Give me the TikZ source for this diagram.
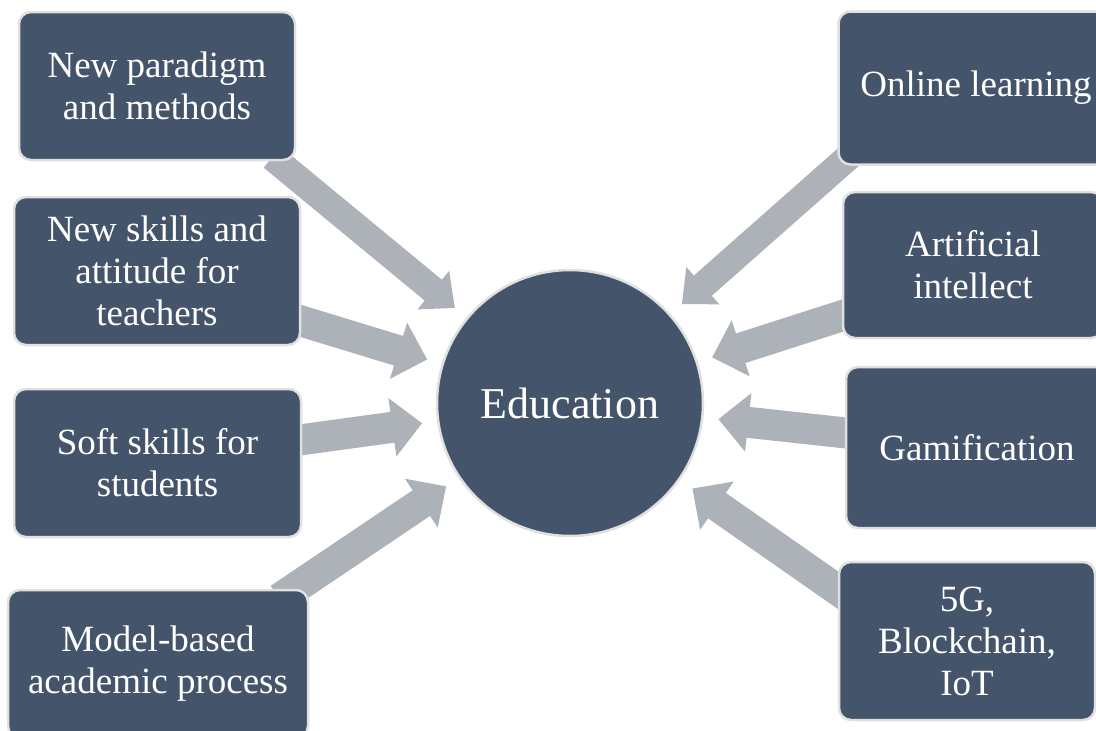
\documentclass[tikz,border=0pt]{standalone}
\usepackage{fontspec}
\setmainfont{Liberation Serif}
\usepackage{xcolor}
\usetikzlibrary{arrows.meta,backgrounds}

\definecolor{slate}{HTML}{44546A}
\definecolor{arrowgray}{HTML}{ADB1B8}
\definecolor{rimgray}{HTML}{E0E0E0}

\tikzset{
  topic/.style={rectangle, rounded corners=12pt, fill=slate, draw=rimgray,
    line width=2.5pt, text=white, align=center, inner sep=0pt,
    font=\fontsize{37}{42}\selectfont},
  hub/.style={circle, fill=slate, draw=rimgray, line width=2.5pt, text=white,
    minimum size=266pt, inner sep=0pt, font=\fontsize{44}{50}\selectfont},
  feed/.style={arrowgray, line width=31pt, shorten >=15pt,
    -{Triangle[length=30pt,width=57pt]}},
  longfeed/.style={feed, line width=27pt, -{Triangle[length=28pt,width=48pt]}},
}

\begin{document}
\begin{tikzpicture}[x=1pt,y=-1pt]
            \useasboundingbox (0,0) rectangle (1096,731);
            \clip (0,0) rectangle (1096,731);
            % left column
            \node [topic, minimum width=276pt, minimum height=148pt] (p1) at (157,86) {New paradigm\\and methods};
            \node [topic, minimum width=286pt, minimum height=148pt] (p2) at (157,271) {New skills and\\attitude for\\teachers};
            \node [topic, minimum width=287pt, minimum height=148pt] (p3) at (157.5,463) {Soft skills for\\students};
            \node [topic, minimum width=300pt, minimum height=148pt] (p4) at (158,664) {Model-based\\academic process};
            % right column
            \node [topic, minimum width=275pt, minimum height=153pt] (o1) at (976,88) {Online learning};
            \node [topic, minimum width=260pt, minimum height=146pt] (o2) at (973,265) {Artificial\\intellect};
            \node [topic, minimum width=262pt, minimum height=161pt] (o3) at (977,447.5) {Gamification};
            \node [topic, minimum width=256pt, minimum height=158pt] (o4) at (967,641) {5G,\\Blockchain,\\IoT};
            % centre
            \node [hub] (edu) at (570,403) {Education};
            \begin{pgfonlayer}{background}
            \draw [longfeed] ([xshift=-24pt,yshift=4pt]p1.south east) -- (edu);
            \draw [feed] ([xshift=-10pt,yshift=-47pt]p2.east) -- (edu);
            \draw [feed] ([xshift=-10pt,yshift=22pt]p3.east) -- (edu);
            \draw [feed] ([xshift=-30pt,yshift=-10pt]p4.north east) -- (edu);
            \draw [longfeed] ([xshift=16pt,yshift=13pt]o1.south west) -- (edu);
            \draw [feed] ([xshift=8pt,yshift=26pt]o2.south west) -- (edu);
            \draw [feed] ([xshift=6pt,yshift=14pt]o3.west) -- (edu);
            \draw [feed] ([xshift=10pt,yshift=44pt]o4.west) -- (edu);
            \end{pgfonlayer}
        \end{tikzpicture}
\end{document}
